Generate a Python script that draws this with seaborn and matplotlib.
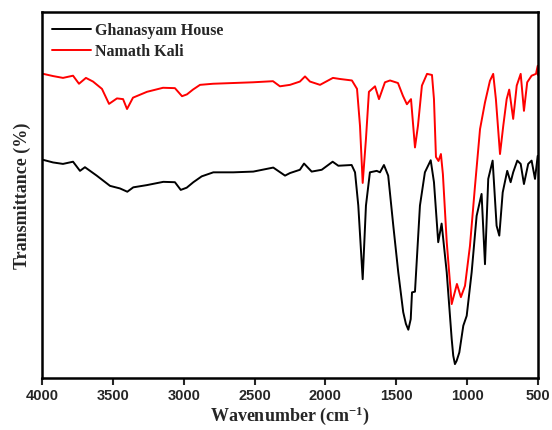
import numpy as np
import pandas as pd
import matplotlib
matplotlib.use("Agg")
import matplotlib.pyplot as plt
import seaborn as sns

# ---- data ----
series_names = ["Ghanasyam House", "Namath Kali"]
series_colors = ["black", "red"]

wn_black = [3991, 3922, 3852, 3781, 3732, 3697, 3614, 3520, 3450, 3398, 3356, 3261,
            3144, 3062, 3021, 2979, 2932, 2873, 2791, 2650, 2509, 2368, 2285, 2250,
            2180, 2151, 2097, 2026, 1949, 1909, 1815, 1791, 1768, 1737, 1714, 1686,
            1638, 1615, 1587, 1557, 1521, 1486, 1451, 1432, 1415, 1398, 1389, 1368,
            1333, 1298, 1257, 1234, 1204, 1180, 1144, 1109, 1098, 1086, 1074, 1055,
            1027, 1003, 968, 933, 898, 874, 851, 820, 792, 773, 749, 717, 693, 675,
            646, 622, 599, 569, 545, 521, 502]
t_black = [59.6, 58.9, 58.5, 59.1, 56.6, 57.6, 55.3, 52.5, 51.8, 50.9, 52.1, 52.7,
           53.6, 53.5, 51.4, 52.0, 53.5, 55.1, 56.2, 56.2, 56.4, 57.5, 55.3, 56.0,
           56.9, 58.6, 56.4, 56.9, 59.1, 58.0, 58.2, 56.2, 47.1, 27.0, 47.1, 56.2,
           56.6, 56.2, 58.2, 55.3, 41.6, 28.9, 18.0, 14.8, 13.2, 16.1, 23.4, 23.6,
           47.1, 56.2, 59.5, 53.5, 37.1, 42.2, 28.9, 10.7, 6.1, 3.8, 4.7, 7.0,
           14.3, 17.0, 28.9, 44.3, 50.3, 31.1, 54.4, 59.4, 41.6, 38.9, 50.7, 56.6,
           53.5, 56.2, 59.4, 58.5, 53.0, 58.5, 59.4, 54.4, 60.7]

wn_red = [3991, 3922, 3852, 3781, 3739, 3690, 3640, 3577, 3527, 3471, 3428, 3400,
          3358, 3259, 3146, 3062, 3012, 2977, 2935, 2885, 2793, 2652, 2511, 2370,
          2321, 2250, 2180, 2144, 2109, 2038, 1947, 1897, 1813, 1777, 1756, 1737,
          1714, 1693, 1650, 1622, 1580, 1544, 1488, 1453, 1425, 1396, 1368, 1347,
          1319, 1283, 1248, 1234, 1220, 1202, 1185, 1171, 1144, 1109, 1072, 1044,
          1015, 980, 945, 909, 874, 839, 816, 797, 768, 745, 721, 703, 675, 650,
          622, 599, 576, 545, 514, 502, 500]
t_red = [83.1, 82.5, 82.0, 82.6, 80.4, 82.0, 81.0, 79.0, 74.9, 76.4, 76.2, 73.5,
         76.6, 78.2, 79.3, 79.2, 77.0, 77.5, 78.8, 80.1, 80.4, 80.6, 80.8, 81.1,
         79.7, 80.1, 81.0, 82.4, 81.0, 80.1, 82.0, 81.7, 81.3, 79.0, 68.9, 53.3,
         65.3, 78.2, 79.7, 76.2, 80.8, 81.3, 80.6, 77.1, 74.8, 76.2, 63.0, 68.9,
         79.9, 83.1, 82.8, 76.2, 60.4, 59.3, 61.2, 55.7, 37.2, 20.2, 25.7, 22.1,
         25.2, 36.1, 52.2, 68.0, 75.3, 81.2, 83.1, 76.2, 61.2, 68.9, 76.2, 78.8,
         70.8, 79.9, 83.1, 73.0, 80.8, 82.6, 83.1, 85.3, 82.8]

x_ticks = [4000, 3500, 3000, 2500, 2000, 1500, 1000, 500]

df = pd.concat([
    pd.DataFrame({"Wavenumber": wn_black, "T": t_black, "Sample": series_names[0]}),
    pd.DataFrame({"Wavenumber": wn_red, "T": t_red, "Sample": series_names[1]}),
], ignore_index=True)

sns.set_style("white")
plt.rcParams["mathtext.fontset"] = "custom"
plt.rcParams["mathtext.rm"] = "Liberation Serif"
plt.rcParams["mathtext.bf"] = "Liberation Serif:bold"
plt.rcParams["mathtext.default"] = "bf"

fig = plt.figure(figsize=(5.52, 4.31), dpi=100)
ax = fig.add_axes([0.0761, 0.1206, 0.8985, 0.8492])

sns.lineplot(data=df, x="Wavenumber", y="T", hue="Sample",
             palette=dict(zip(series_names, series_colors)),
             estimator=None, sort=False, linewidth=1.4, ax=ax)

ax.set_xlim(4000, 500)
ax.set_ylim(0, 100)
ax.set_xticks(x_ticks)
ax.set_xticklabels([str(t) for t in x_ticks], fontfamily="Liberation Sans",
                   fontweight="bold", fontsize=10.5)
ax.set_yticks([])
ax.tick_params(axis="x", direction="out", length=5, width=1.5, bottom=True, top=False, pad=2)
for s in ax.spines.values():
    s.set_linewidth(1.8)
    s.set_color("black")

ax.set_xlabel("Wavenumber (cm$^{-1}$)", fontfamily="Liberation Serif",
              fontweight="bold", fontsize=13, labelpad=1)
ax.set_ylabel("Transmittance (%)", fontfamily="Liberation Serif",
              fontweight="bold", fontsize=13, labelpad=8)

leg = ax.legend(loc="upper left", frameon=False, handlelength=2.4,
                prop={"family": "Liberation Serif", "weight": "bold", "size": 11.5},
                borderaxespad=0.25, labelspacing=0.3, handletextpad=0.25)

fig.savefig("out.png", dpi=100)
